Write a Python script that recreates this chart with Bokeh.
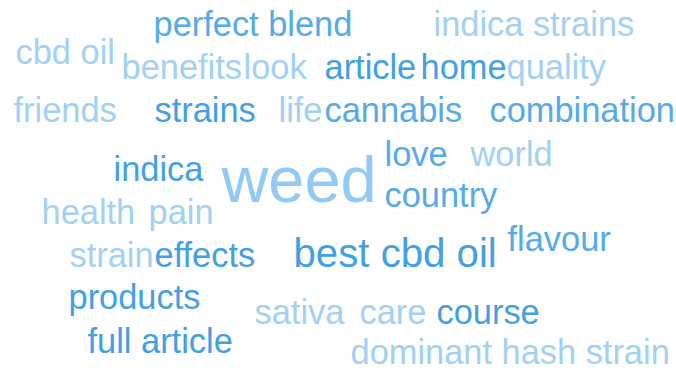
from bokeh.plotting import figure
from bokeh.models import ColumnDataSource, Range1d
from bokeh.core.properties import value
from bokeh.embed import file_html
from bokeh.resources import INLINE

# ---- data: words and their relative weights / shade groups ----
words = ["perfect blend", "indica strains", "cbd oil", "benefits", "look", "article",
         "home", "quality", "friends", "strains", "life", "cannabis", "combination",
         "indica", "weed", "love", "world", "country", "health", "pain", "strain",
         "effects", "best cbd oil", "flavour", "products", "sativa", "care", "course",
         "full article", "dominant hash strain"]
weights = [5, 5, 5, 5, 5, 5,
           5, 5, 5, 5, 5, 5, 5,
           5, 9.45, 5, 5, 5, 5, 5, 5,
           5, 5.85, 5, 5, 5, 5, 5,
           5, 5]
shade = ["mid", "light", "light", "light", "light", "dark",
         "dark", "light", "light", "dark", "light", "mid", "mid",
         "dark", "weed", "mid", "light", "mid", "light", "light", "light",
         "dark", "dark", "mid", "dark", "light", "light", "dark",
         "dark", "light"]

# ---- layout (left edge / text baseline of each word, in page pixels) ----
pos_x = [153, 433, 15, 121, 243, 324,
         420, 506, 13, 154, 278, 324, 489,
         113, 221, 384, 470, 384, 41, 148, 69,
         154, 293, 507, 68, 254, 359, 436,
         87, 350]
pos_y = [35, 35, 63, 78, 78, 78,
         78, 78, 121, 121, 121, 121, 121,
         180, 200, 165, 165, 206, 223, 223, 266,
         266, 266, 250, 308, 323, 323, 323,
         352, 363]

palette = {"dark": "#43a0e4", "mid": "#55abea", "light": "#a2d1f4", "weed": "#90caf5"}
px_per_weight = 6.87
baseline_shift = 0.33  # renderer places the alphabetic baseline this many ems below y

sizes = [w * px_per_weight for w in weights]
src = ColumnDataSource(dict(
    x=pos_x,
    y=[b - baseline_shift * s for b, s in zip(pos_y, sizes)],
    text=words,
    size=[f"{s:.1f}px" for s in sizes],
    color=[palette[s] for s in shade],
))

p = figure(width=676, height=371, output_backend="svg", toolbar_location=None,
           x_range=Range1d(0, 676), y_range=Range1d(371, 0), min_border=0,
           background_fill_color="white", border_fill_color="white")
p.axis.visible = False
p.grid.visible = False
p.outline_line_color = None

p.text(x="x", y="y", text="text", source=src, text_font=value("Liberation Sans"),
       text_font_size="size", text_color="color", text_align="left",
       text_baseline="alphabetic")

open("out.html", "w").write(file_html(p, INLINE))
